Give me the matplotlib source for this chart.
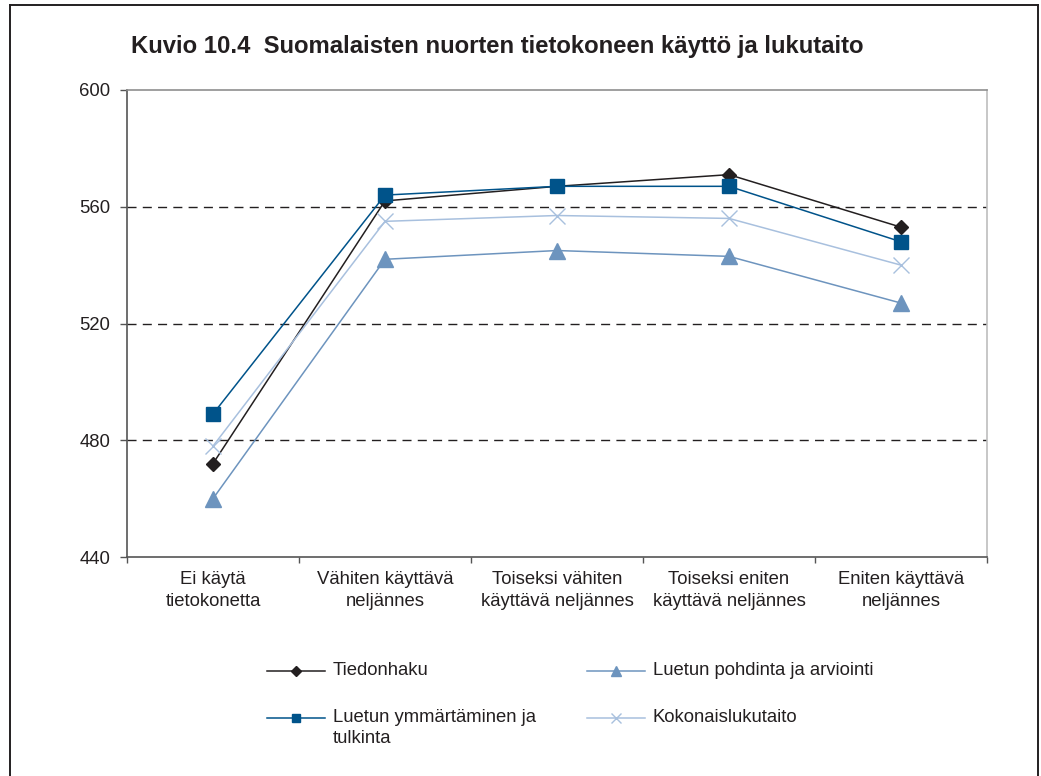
import matplotlib
matplotlib.use("Agg")
import matplotlib.pyplot as plt
from matplotlib.lines import Line2D

plt.rcParams["font.family"] = ["Liberation Sans", "DejaVu Sans"]

categories = [
    "Ei käytä\ntietokonetta",
    "Vähiten käyttävä\nneljännes",
    "Toiseksi vähiten\nkäyttävä neljännes",
    "Toiseksi eniten\nkäyttävä neljännes",
    "Eniten käyttävä\nneljännes",
]
tiedonhaku = [472, 562, 567, 571, 553]
ymmartaminen = [489, 564, 567, 567, 548]
pohdinta = [460, 542, 545, 543, 527]
kokonais = [478, 555, 557, 556, 540]
y_ticks = [440, 480, 520, 560, 600]

labels = [
    "Tiedonhaku",
    "Luetun ymmärtäminen ja\ntulkinta",
    "Luetun pohdinta ja arviointi",
    "Kokonaislukutaito",
]

W, H = 1041, 776
FS = 13.3
fig = plt.figure(figsize=(W / 100, H / 100), dpi=100)
fig.patch.set_facecolor("white")

# plot area in pixel terms
left, right, top, bottom = 127, 987, 90, 557
ax = fig.add_axes([left / W, 1 - bottom / H, (right - left) / W, (bottom - top) / H])

styles = [
    dict(color="#231f20", marker="D", ms=7.6, lw=1.1, mec="#231f20", mfc="#231f20"),
    dict(color="#00538a", marker="s", ms=10, lw=1.1, mec="#00538a", mfc="#00538a"),
    dict(color="#6d94be", marker="^", ms=11, lw=1.1, mec="#6d94be", mfc="#6d94be"),
    dict(color="#a8c0de", marker="x", ms=11.5, lw=1.1, mew=1.0),
]
series = [tiedonhaku, ymmartaminen, pohdinta, kokonais]
x = list(range(len(categories)))

# draw order: lighter series behind the dark ones
for idx in [3, 2, 0, 1]:
    ax.plot(x, series[idx], zorder=3 + idx, clip_on=False, **styles[idx])

ax.set_xlim(-0.5, len(categories) - 0.5)
ax.set_ylim(440, 600)
ax.set_yticks(y_ticks)
ax.set_yticklabels([str(v) for v in y_ticks])

for v in y_ticks[1:-1]:
    ax.axhline(v, color="#231f20", lw=1.0, ls=(0, (6.5, 4.5)), zorder=1)

ax.set_xticks(x)
ax.set_xticklabels(categories, fontsize=FS, linespacing=1.38, color="#231f20")
ax.set_xticks([i - 0.5 for i in range(len(categories) + 1)], minor=True)
ax.tick_params(axis="x", which="major", length=0, pad=10)
ax.tick_params(axis="x", which="minor", length=4, width=1, color="#555555", direction="out")
ax.tick_params(axis="y", length=5, width=1, color="#555555", direction="out",
               labelsize=FS, pad=7, labelcolor="#231f20")

ax.spines["left"].set_color("#555555")
ax.spines["bottom"].set_color("#555555")
ax.spines["top"].set_color("#8f8f8f")
ax.spines["right"].set_color("#bdbdbd")
for s in ax.spines.values():
    s.set_linewidth(1.2)

fig.text(131 / W, 1 - 46 / H, "Kuvio 10.4  Suomalaisten nuorten tietokoneen käyttö ja lukutaito",
         fontsize=17.2, fontweight="bold", ha="left", va="center", color="#231f20")

# legend drawn on an overlay in pixel coordinates
lax = fig.add_axes([0, 0, 1, 1])
lax.set_xlim(0, W)
lax.set_ylim(H, 0)
lax.axis("off")
lax.patch.set_alpha(0)

legend_slots = [(267, 671), (267, 718), (587, 671), (587, 718)]
legend_ms = [5.5, 6, 7, 7]
for (lx, ly), st, lab, ms in zip(legend_slots, styles, labels, legend_ms):
    st2 = dict(st)
    st2["ms"] = ms
    lax.plot([lx, lx + 58], [ly, ly], **{k: v for k, v in st2.items() if k != "marker"})
    lax.plot([lx + 29], [ly], ls="none", **{k: v for k, v in st2.items() if k not in ("lw",)})
    lax.text(lx + 66, ly - 9, lab, fontsize=FS, ha="left", va="top",
             linespacing=1.3, color="#231f20")

# outer frame
frame_color = "#231f20"
fig.add_artist(Line2D([10 / W, 10 / W], [0, 1 - 5 / H], color=frame_color, lw=1.4))
fig.add_artist(Line2D([10 / W, 1038 / W], [1 - 5 / H, 1 - 5 / H], color=frame_color, lw=1.4))
fig.add_artist(Line2D([1038 / W, 1038 / W], [0, 1 - 5 / H], color=frame_color, lw=1.4))

fig.savefig("out.png", dpi=100, facecolor="white")
